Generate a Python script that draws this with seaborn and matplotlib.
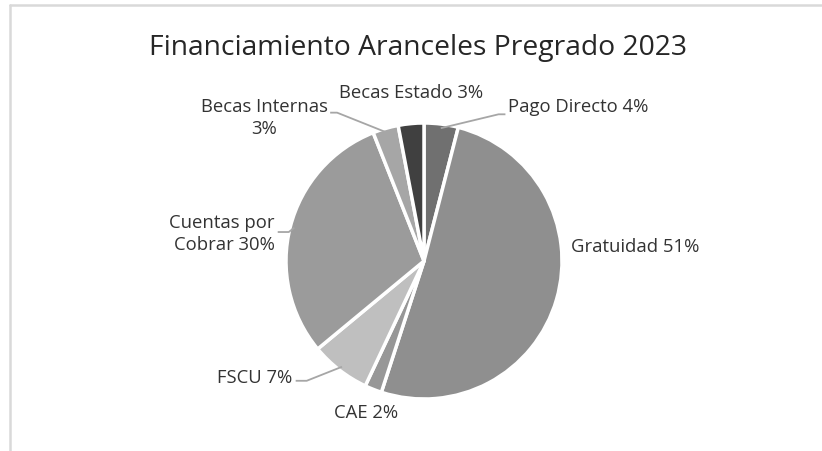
import seaborn as sns
import matplotlib.pyplot as plt
from matplotlib.lines import Line2D
import numpy as np

# data (percent shares, clockwise from the top)
categories = ['Pago Directo', 'Gratuidad', 'CAE', 'FSCU',
              'Cuentas por\nCobrar', 'Becas Internas\n', 'Becas Estado']
shares = [4, 51, 2, 7, 30, 3, 3]
colors = ['#707070', '#8f8f8f', '#979797', '#bfbfbf', '#9b9b9b', '#a6a6a6', '#404040']

sns.set_theme(style='white')
plt.rcParams['font.family'] = ['Open Sans', 'DejaVu Sans']
txt = '#333333'

fig = plt.figure(figsize=(8.22, 4.51), dpi=100)
ax = fig.add_axes([0, 0, 1, 1])

wedges, _ = ax.pie(shares, colors=colors, startangle=90, counterclock=False,
                   radius=1.0, wedgeprops={'edgecolor': 'white', 'linewidth': 2.5})

# 1 data unit = 138 px, pie centre at (424, 261) px
ax.set_xlim(-424 / 138, (822 - 424) / 138)
ax.set_ylim(-(451 - 261) / 138, 261 / 138)
ax.set_aspect('equal')
ax.axis('off')

# label placement (text anchor, alignment, leader end or None)
layout = [
    ((0.61, 1.116), 'left', (0.59, 1.063)),
    ((1.065, 0.101), 'left', None),
    ((-0.42, -1.101), 'center', None),
    ((-0.957, -0.848), 'right', (-0.93, -0.868)),
    ((-1.08, 0.196), 'right', (-1.06, 0.210)),
    ((-1.159, 1.036), 'center', (-0.68, 1.075)),
    ((-0.094, 1.217), 'center', None),
]

for w, name, val, (pos, ha, lead) in zip(wedges, categories, shares, layout):
    if name.endswith('\n'):
        label = f'{name}{val}%'
    else:
        label = f'{name} {val}%'
    ax.text(pos[0], pos[1], label, ha=ha, va='center', fontsize=13.3,
            color=txt, linespacing=1.35)
    if lead is not None:
        ang = np.deg2rad((w.theta1 + w.theta2) / 2)
        x0, y0 = 0.97 * np.cos(ang), 0.97 * np.sin(ang)
        if ha == 'right':
            xs = [x0, lead[0] + 0.08, lead[0]]
        elif ha == 'left':
            xs = [x0, lead[0] - 0.05, lead[0]]
        else:
            xs = [x0, lead[0] + 0.05, lead[0]]
        ys = [y0, lead[1], lead[1]]
        ax.plot(xs, ys, color='#a6a6a6', lw=1.3, solid_capstyle='butt')

fig.text(418 / 822, 1 - 48 / 451, 'Financiamiento Aranceles Pregrado 2023',
         ha='center', va='center', fontsize=20.3, color='#262626')

# chart area border (partially visible in the crop)
fig.add_artist(Line2D([9.5 / 822, 1], [1 - 4.5 / 451] * 2, color='#d9d9d9', lw=1.8,
                      transform=fig.transFigure))
fig.add_artist(Line2D([9.5 / 822] * 2, [0, 1 - 4.5 / 451], color='#d9d9d9', lw=1.8,
                      transform=fig.transFigure))

fig.savefig('out.png', dpi=100, facecolor='white')
